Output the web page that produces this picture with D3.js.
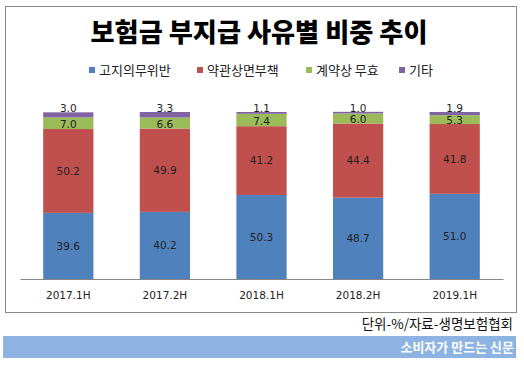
<!DOCTYPE html>
<html>
<head>
<meta charset="utf-8">
<script src="https://cdn.jsdelivr.net/npm/d3@7"></script>
<style>
  body { margin: 0; background: #fff; }
  svg { display: block; }
</style>
</head>
<body>
<div class="chart_area"></div>
<script>
var categories = ["2017.1H", "2017.2H", "2018.1H", "2018.2H", "2019.1H"];
var seriesNames = ["고지의무위반", "약관상면부책", "계약상 무효", "기타"];
var disclosure = [39.6, 40.2, 50.3, 48.7, 51.0];
var termsExempt = [50.2, 49.9, 41.2, 44.4, 41.8];
var contractVoid = [7.0, 6.6, 7.4, 6.0, 5.3];
var others = [3.0, 3.3, 1.1, 1.0, 1.9];
var colors = ["#4f81bd", "#c0504d", "#9bbb59", "#8064a2"];

var W = 524, H = 368;
var svg = d3.select(".chart_area").append("svg")
    .attr("width", W).attr("height", H);

// outer frame
svg.append("rect")
    .attr("x", 5.5).attr("y", 6.5).attr("width", 511).attr("height", 306)
    .attr("fill", "#fff").attr("stroke", "#888").attr("stroke-width", 1);

// title
svg.append("text")
    .attr("x", 259).attr("y", 42)
    .attr("text-anchor", "middle")
    .attr("textLength", 337).attr("lengthAdjust", "spacingAndGlyphs")
    .style("font-family", "'Noto Sans CJK KR'")
    .style("font-weight", 900)
    .style("font-size", "26px")
    .text("보험금 부지급 사유별 비중 추이");

// legend
var legendX = [89, 197, 306, 399];
var legend = svg.append("g").selectAll("g")
    .data(seriesNames).enter().append("g")
    .attr("transform", function(d, i) { return "translate(" + legendX[i] + ",70)"; });
legend.append("rect")
    .attr("x", 0).attr("y", -3).attr("width", 6).attr("height", 6)
    .attr("fill", function(d, i) { return colors[i]; });
legend.append("text")
    .attr("x", 10).attr("dy", "0.35em")
    .style("font-family", "'Noto Sans CJK KR'")
    .style("font-size", "13px")
    .style("fill", "#222")
    .text(function(d) { return d; });

// stacked data
var table = categories.map(function(c, i) {
    return { cat: c, s0: disclosure[i], s1: termsExempt[i], s2: contractVoid[i], s3: others[i] };
});
var stack = d3.stack().keys(["s0", "s1", "s2", "s3"])(table);

var x = d3.scaleBand().domain(categories).range([20, 503]).paddingInner(0.48).paddingOuter(0.24);
var y = d3.scaleLinear().domain([0, 100]).range([279, 112]);

var layers = svg.append("g").selectAll("g")
    .data(stack).enter().append("g")
    .attr("fill", function(d, i) { return colors[i]; });

layers.selectAll("rect")
    .data(function(d) { return d; }).enter().append("rect")
    .attr("x", function(d) { return x(d.data.cat); })
    .attr("width", x.bandwidth())
    .attr("y", function(d) { return y(d[1]); })
    .attr("height", function(d) { return y(d[0]) - y(d[1]); });

// labels: the thin top series sits just above its segment
layers.each(function(layer, li) {
    d3.select(this).selectAll("text")
        .data(layer).enter().append("text")
        .attr("x", function(d) { return x(d.data.cat) + x.bandwidth() / 2; })
        .attr("y", function(d) {
            if (li === 3) return y(d[1]) - 4;
            if (li === 2) return (y(d[0]) + y(d[1])) / 2 + 1;
            return (y(d[0]) + y(d[1])) / 2;
        })
        .attr("dy", "0.35em")
        .attr("text-anchor", "middle")
        .style("font-family", "'DejaVu Sans'")
        .style("font-size", "10.5px")
        .style("fill", "#222")
        .text(function(d) { return (d[1] - d[0]).toFixed(1); });
});

// x axis
var xAxis = svg.append("g")
    .attr("transform", "translate(0,279)")
    .call(d3.axisBottom(x).tickSize(0).tickPadding(13));
xAxis.select(".domain").attr("stroke", "#868686");
xAxis.selectAll("text")
    .style("font-family", "'DejaVu Sans'")
    .style("font-size", "10.5px")
    .style("fill", "#222");

// source note
svg.append("text")
    .attr("x", 513).attr("y", 324).attr("dy", "0.35em")
    .attr("text-anchor", "end")
    .style("font-family", "'Noto Sans CJK KR'")
    .style("font-size", "13.5px")
    .style("fill", "#111")
    .text("단위-%/자료-생명보험협회");

// banner
svg.append("rect")
    .attr("x", 3).attr("y", 336).attr("width", 513).attr("height", 22)
    .attr("fill", "#8db3e2");
svg.append("text")
    .attr("x", 514).attr("y", 347).attr("dy", "0.35em")
    .attr("text-anchor", "end")
    .style("font-family", "'Noto Sans CJK KR'")
    .style("font-weight", 700)
    .style("font-size", "13px")
    .style("fill", "#fff")
    .text("소비자가 만드는 신문");
</script>
</body>
</html>
